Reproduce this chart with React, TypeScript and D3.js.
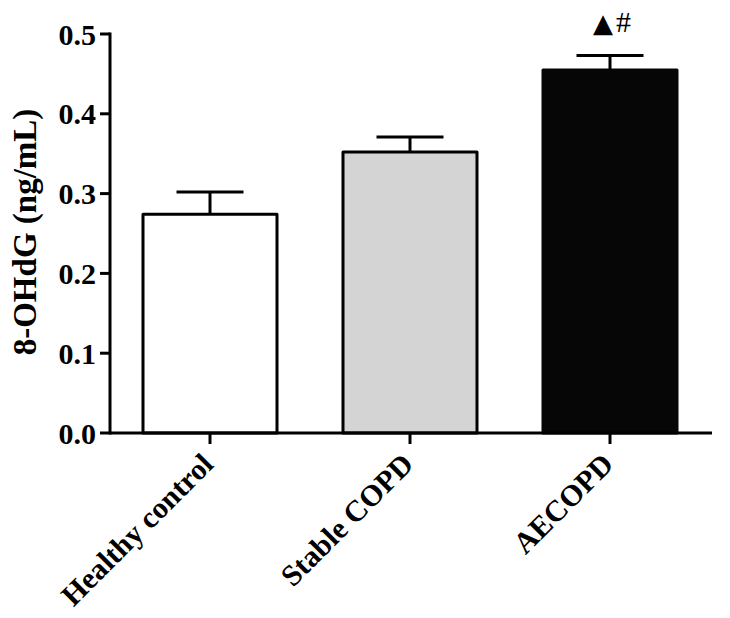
import React from "react";
import * as d3 from "d3";

const categories = ["Healthy control", "Stable COPD", "AECOPD"];
const means = [0.274, 0.352, 0.455];
const errors = [0.028, 0.019, 0.018];
const fills = ["#ffffff", "#d4d4d4", "#060606"];
const yTicks = [0.0, 0.1, 0.2, 0.3, 0.4, 0.5];
const markA = ["", "", "▲"];
const markB = ["", "", "#"];
const yLabel = "8-OHdG (ng/mL)";

const W = 730;
const H = 618;
const x0 = 110;
const x1 = 712;
const yTop = 34;
const yBase = 433;
const font = "'Liberation Serif', 'Times New Roman', serif";

export default function App() {
  const x = d3
    .scaleBand<string>()
    .domain(categories)
    .range([x0, x0 + 600])
    .paddingInner(0.33)
    .paddingOuter(0.165);
  const y = d3.scaleLinear().domain([0, 0.5]).range([yBase, yTop]);
  const bw = x.bandwidth();
  const sw = 3;

  return (
    <svg
      width={W}
      height={H}
      style={{ position: "absolute", left: 0, top: 0, background: "#fff" }}
    >
      <rect x={0} y={0} width={W} height={H} fill="#fff" />
      {categories.map((c, i) => {
        const bx = x(c)!;
        const cx = bx + bw / 2;
        const top = y(means[i]);
        const cap = y(means[i] + errors[i]);
        return (
          <g key={c}>
            <line x1={cx} x2={cx} y1={top} y2={cap} stroke="#000" strokeWidth={sw} />
            <line x1={cx - bw / 4} x2={cx + bw / 4} y1={cap} y2={cap} stroke="#000" strokeWidth={sw} />
            <rect
              x={bx}
              y={top}
              width={bw}
              height={yBase - top}
              fill={fills[i]}
              stroke={i === 2 ? fills[i] : "#000"}
              strokeWidth={sw}
              strokeLinejoin="round"
            />
            {markA[i] && (
              <text
                x={cx + 2}
                y={cap - 24}
                textAnchor="middle"
                fill="#000"
              >
                <tspan fontSize={26} fontFamily="'DejaVu Sans', sans-serif">{markA[i]}</tspan>
                <tspan fontSize={30} dx={3} fontFamily={font}>{markB[i]}</tspan>
              </text>
            )}
          </g>
        );
      })}
      <line x1={x0} x2={x0} y1={yTop - 1.5} y2={yBase + 1.5} stroke="#000" strokeWidth={sw} />
      {yTicks.map((t) => (
        <g key={t}>
          <line x1={x0 - 10} x2={x0} y1={y(t)} y2={y(t)} stroke="#000" strokeWidth={sw} />
          <text
            x={x0 - 14}
            y={y(t)}
            dy="0.35em"
            textAnchor="end"
            fontFamily={font}
            fontWeight="bold"
            fontSize={30}
            fill="#000"
          >
            {t.toFixed(1)}
          </text>
        </g>
      ))}
      <text
        transform={`translate(36, 232) rotate(-90)`}
        textAnchor="middle"
        fontFamily={font}
        fontWeight="bold"
        fontSize={33}
        fill="#000"
      >
        {yLabel}
      </text>
      <line x1={x0} x2={x1} y1={yBase} y2={yBase} stroke="#000" strokeWidth={sw} />
      {categories.map((c) => {
        const cx = x(c)! + bw / 2;
        return (
          <g key={c}>
            <line x1={cx} x2={cx} y1={yBase} y2={yBase + 11} stroke="#000" strokeWidth={sw} />
            <text
              transform={`translate(${cx + 5}, 466) rotate(-45)`}
              textAnchor="end"
              fontFamily={font}
              fontWeight="bold"
              fontSize={30}
              fill="#000"
            >
              {c}
            </text>
          </g>
        );
      })}
    </svg>
  );
}
